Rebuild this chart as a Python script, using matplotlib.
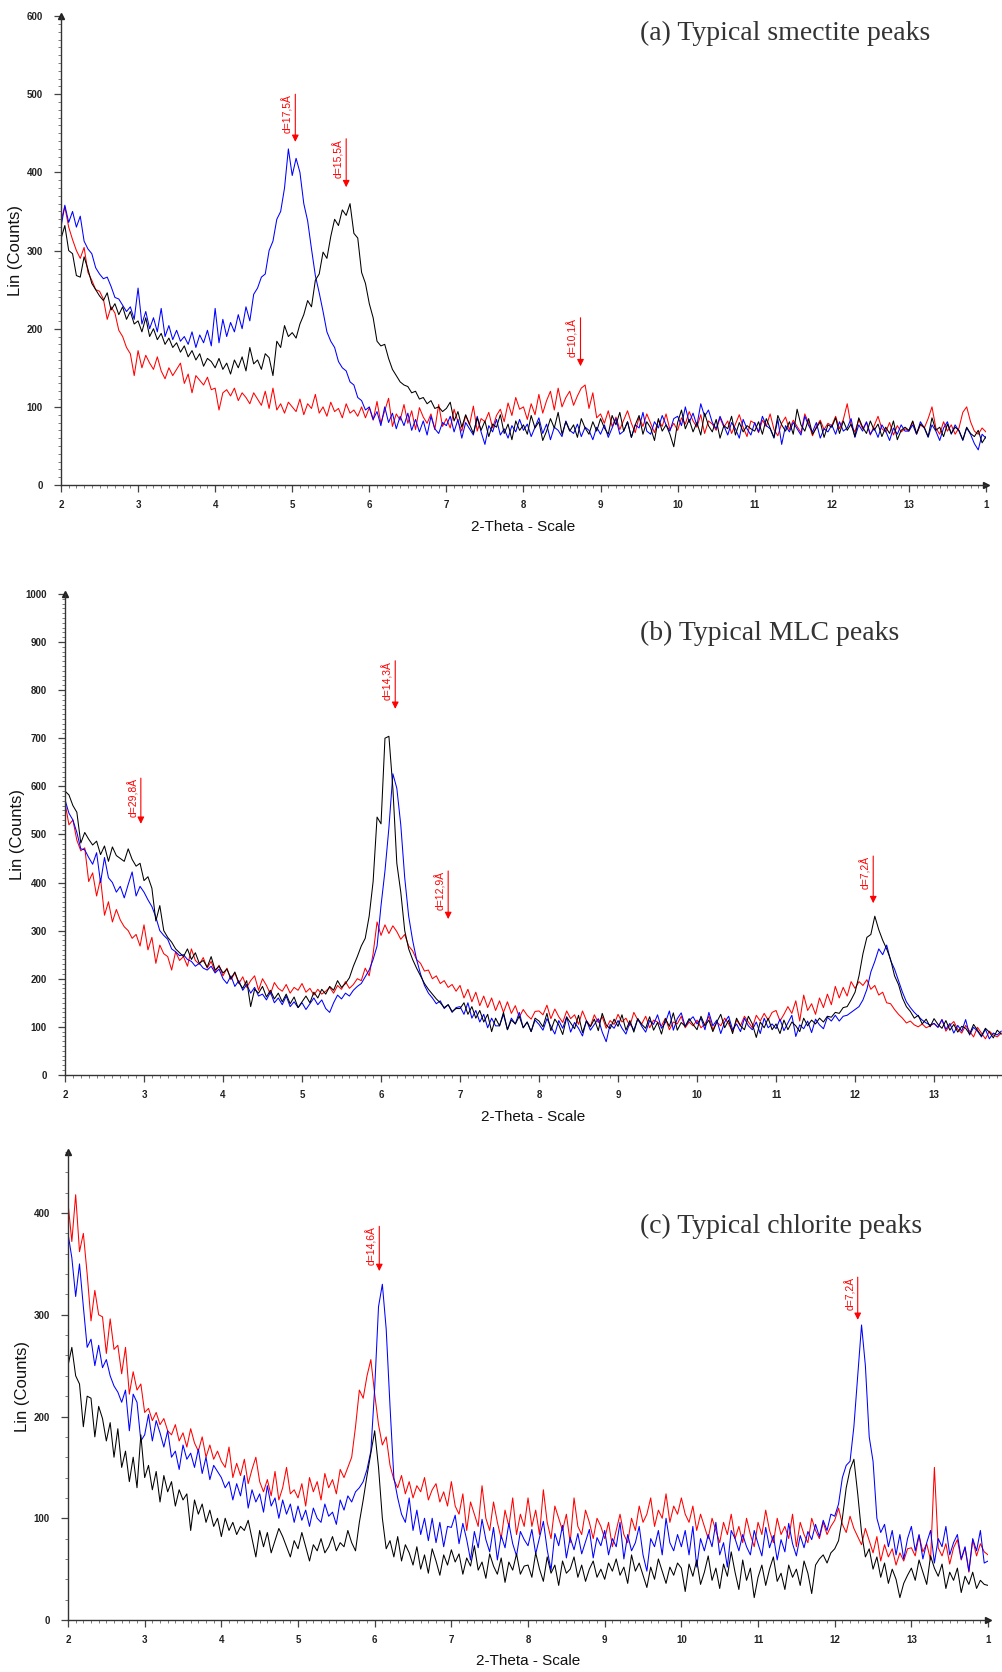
import numpy as np
import matplotlib
matplotlib.use("Agg")
import matplotlib.pyplot as plt
from matplotlib.ticker import MultipleLocator, FixedLocator

# ---------------- data (2-theta scan, step 0.05 deg, starting at 2.00) ----------------
STEP = 0.05
START = 2.0

# Panel (a) smectite
a_black = [315, 332, 300, 296, 268, 266, 292, 276, 258, 250, 242, 236, 246, 224, 232, 218, 228, 212, 222, 206,
           210, 196, 214, 190, 200, 186, 194, 180, 188, 176, 182, 170, 178, 164, 172, 160, 168, 152, 162, 158,
           150, 162, 148, 156, 142, 160, 150, 164, 146, 176, 155, 160, 148, 168, 163, 140, 184, 176, 204, 190,
           195, 188, 206, 218, 236, 228, 262, 270, 298, 290, 318, 340, 332, 352, 345, 360, 322, 316, 272, 258,
           232, 214, 184, 178, 180, 162, 148, 140, 132, 128, 126, 118, 120, 110, 112, 104, 108, 98, 100, 94,
           98, 106, 82, 94, 74, 90, 78, 66, 86, 70, 82, 62, 78, 74, 90, 66, 78, 58, 82, 70,
           77, 65, 89, 73, 81, 57, 69, 85, 73, 93, 65, 81, 69, 77, 61, 85, 73, 65, 81, 69,
           85, 73, 65, 89, 77, 93, 69, 81, 61, 77, 89, 65, 81, 73, 57, 85, 69, 77, 65, 49,
           80, 96, 72, 84, 68, 80, 64, 92, 76, 68, 84, 60, 76, 72, 88, 64, 80, 68, 76, 72,
           69, 81, 65, 85, 73, 61, 89, 77, 69, 81, 65, 97, 77, 69, 85, 65, 73, 81, 61, 77,
           74, 86, 66, 82, 70, 78, 62, 86, 74, 66, 82, 70, 78, 62, 74, 66, 82, 58, 70, 74,
           70, 82, 66, 78, 74, 62, 86, 70, 74, 62, 78, 66, 74, 70, 58, 74, 66, 62, 70, 54,
           62]
a_blue = [330, 358, 336, 350, 330, 344, 312, 302, 296, 278, 270, 264, 266, 254, 240, 238, 230, 222, 228, 212,
          252, 206, 222, 200, 214, 196, 226, 190, 204, 186, 198, 184, 190, 180, 196, 176, 192, 182, 198, 178,
          226, 182, 212, 190, 208, 196, 218, 200, 228, 210, 244, 252, 266, 270, 300, 312, 340, 350, 380, 430,
          396, 418, 400, 360, 338, 302, 268, 246, 222, 196, 184, 176, 158, 150, 146, 132, 128, 112, 108, 96,
          100, 84, 94, 76, 100, 80, 92, 72, 88, 76, 92, 70, 84, 68, 82, 64, 88, 72, 66, 80,
          76, 88, 68, 84, 60, 80, 72, 64, 88, 68, 52, 76, 68, 84, 64, 72, 60, 76, 68, 84,
          70, 78, 62, 74, 86, 66, 78, 58, 74, 70, 62, 82, 70, 66, 78, 62, 74, 70, 58, 74,
          65, 77, 61, 73, 85, 65, 69, 81, 61, 77, 73, 93, 69, 65, 81, 73, 89, 77, 69, 85,
          88, 76, 100, 80, 92, 76, 104, 88, 96, 80, 72, 88, 76, 64, 80, 72, 60, 84, 72, 64,
          80, 68, 88, 76, 72, 60, 84, 52, 76, 68, 80, 72, 64, 88, 76, 68, 80, 60, 72, 68,
          77, 65, 81, 69, 73, 85, 61, 77, 69, 81, 65, 73, 61, 77, 69, 57, 73, 65, 77, 69,
          69, 77, 65, 81, 73, 61, 77, 69, 57, 73, 81, 65, 77, 69, 57, 73, 65, 53, 45, 65,
          60]
a_red = [338, 356, 330, 314, 300, 290, 304, 272, 262, 250, 248, 238, 212, 228, 220, 198, 190, 176, 168, 140,
         172, 150, 166, 156, 148, 164, 146, 136, 150, 140, 148, 156, 130, 142, 118, 140, 134, 128, 138, 122,
         124, 96, 118, 122, 114, 124, 108, 118, 112, 104, 118, 110, 102, 120, 98, 124, 96, 104, 92, 106,
         100, 94, 110, 90, 104, 98, 116, 92, 100, 88, 106, 94, 98, 86, 104, 92, 96, 88, 100, 86,
         99, 83, 107, 79, 95, 111, 75, 91, 83, 103, 79, 95, 71, 99, 87, 79, 91, 71, 103, 75,
         85, 73, 97, 81, 69, 89, 77, 101, 69, 85, 81, 93, 73, 89, 97, 81, 105, 89, 112, 97,
         100, 84, 104, 90, 116, 92, 108, 120, 96, 124, 100, 112, 120, 102, 114, 124, 128, 98, 118, 86,
         91, 79, 95, 75, 87, 71, 83, 95, 79, 67, 87, 75, 91, 79, 67, 83, 75, 91, 71, 79,
         70, 86, 78, 94, 82, 74, 90, 66, 82, 78, 70, 86, 74, 82, 66, 78, 90, 74, 62, 82,
         79, 67, 83, 75, 91, 71, 63, 79, 87, 71, 83, 75, 67, 91, 79, 63, 75, 83, 71, 79,
         76, 88, 72, 84, 104, 76, 68, 84, 72, 80, 64, 76, 88, 72, 68, 80, 64, 76, 68, 72,
         69, 81, 65, 77, 73, 85, 100, 73, 65, 81, 69, 77, 65, 73, 93, 100, 81, 69, 65, 73,
         68]

# Panel (b) MLC
b_black = [590, 582, 560, 546, 482, 504, 490, 478, 486, 458, 476, 444, 474, 456, 450, 444, 470, 448, 434, 440,
           404, 412, 388, 320, 352, 300, 286, 276, 262, 254, 246, 262, 240, 254, 232, 238, 224, 246, 218, 226,
           212, 220, 200, 214, 192, 180, 196, 142, 178, 170, 184, 162, 176, 158, 170, 152, 168, 148, 162, 140,
           152, 164, 150, 172, 160, 178, 168, 184, 176, 196, 182, 190, 202, 226, 246, 268, 284, 330, 402, 536,
           522, 700, 704, 596, 440, 380, 300, 262, 240, 222, 206, 190, 178, 168, 158, 150, 140, 146, 132, 138,
           138, 150, 126, 142, 118, 134, 110, 126, 90, 118, 102, 130, 94, 114, 106, 122, 98, 110, 90, 118,
           112, 100, 128, 92, 116, 104, 84, 120, 108, 96, 124, 88, 112, 100, 116, 92, 128, 104, 96, 116,
           101, 125, 93, 113, 89, 117, 105, 97, 121, 93, 109, 85, 117, 101, 129, 93, 109, 101, 117, 105,
           94, 122, 102, 114, 90, 110, 126, 98, 114, 86, 118, 102, 94, 122, 106, 78, 110, 98, 118, 94,
           106, 86, 114, 94, 110, 102, 90, 118, 102, 114, 106, 118, 110, 122, 120, 130, 128, 140, 142, 156,
           172, 206, 252, 286, 292, 330, 302, 280, 262, 240, 206, 188, 160, 142, 132, 118, 124, 106, 116, 100,
           117, 105, 97, 113, 93, 105, 89, 101, 97, 85, 105, 93, 81, 97, 89, 77, 93, 85]
b_blue = [572, 544, 530, 504, 470, 468, 452, 438, 462, 400, 452, 410, 400, 380, 392, 368, 396, 422, 372, 392,
          380, 364, 350, 328, 300, 290, 282, 262, 256, 248, 250, 240, 236, 226, 232, 222, 218, 226, 212, 220,
          200, 190, 206, 184, 196, 176, 188, 170, 182, 164, 168, 156, 172, 150, 160, 146, 164, 142, 152, 140,
          150, 136, 148, 160, 146, 156, 138, 130, 150, 166, 158, 170, 164, 176, 184, 190, 204, 218, 240, 268,
          352, 424, 514, 626, 596, 520, 410, 330, 280, 240, 210, 186, 170, 160, 148, 154, 138, 146, 130, 140,
          142, 126, 150, 118, 134, 110, 126, 98, 118, 102, 102, 126, 94, 118, 106, 130, 98, 110, 90, 114,
          105, 93, 117, 101, 85, 113, 97, 121, 89, 109, 97, 81, 113, 93, 105, 117, 89, 69, 105, 97,
          113, 97, 85, 109, 93, 117, 101, 89, 113, 105, 125, 97, 109, 133, 93, 117, 129, 101, 113, 121,
          106, 118, 94, 130, 102, 114, 86, 110, 122, 94, 106, 90, 118, 102, 94, 110, 86, 118, 98, 106,
          96, 116, 92, 108, 124, 80, 104, 96, 112, 88, 116, 104, 96, 120, 112, 124, 112, 122, 124, 130,
          136, 142, 156, 178, 214, 236, 262, 250, 270, 238, 220, 196, 172, 152, 140, 130, 122, 114, 108, 104,
          107, 99, 115, 95, 107, 87, 103, 91, 115, 83, 99, 91, 79, 95, 75, 87, 83, 91]
b_red = [566, 520, 530, 488, 466, 472, 402, 420, 372, 408, 332, 360, 318, 344, 322, 308, 300, 284, 292, 268,
         312, 260, 286, 232, 270, 252, 246, 218, 256, 238, 246, 226, 262, 238, 230, 244, 222, 236, 214, 228,
         206, 222, 198, 212, 190, 204, 182, 196, 206, 176, 200, 186, 168, 192, 180, 174, 188, 170, 182, 176,
         190, 172, 180, 166, 178, 168, 174, 182, 170, 186, 178, 194, 180, 188, 200, 196, 222, 206, 252, 318,
         290, 312, 294, 310, 298, 282, 292, 268, 258, 240, 232, 216, 218, 200, 206, 190, 196, 182, 188, 174,
         186, 160, 178, 152, 172, 144, 164, 140, 160, 134, 154, 130, 152, 128, 144, 120, 136, 124, 116, 132,
         133, 125, 145, 117, 137, 121, 109, 133, 117, 125, 105, 133, 113, 101, 125, 109, 121, 97, 113, 105,
         126, 110, 118, 102, 130, 114, 106, 122, 98, 114, 110, 102, 118, 94, 110, 106, 122, 98, 110, 102,
         114, 98, 106, 122, 94, 110, 102, 118, 106, 90, 114, 102, 122, 110, 98, 124, 112, 128, 114, 130,
         134, 112, 126, 142, 128, 154, 112, 166, 134, 148, 126, 160, 140, 168, 146, 184, 160, 182, 164, 194,
         180, 194, 186, 198, 178, 186, 166, 172, 150, 148, 136, 126, 118, 108, 112, 104, 100, 106, 98, 102,
         107, 99, 115, 91, 103, 111, 95, 87, 103, 91, 79, 99, 87, 75, 91, 83, 79, 87]

# Panel (c) chlorite
c_black = [250, 268, 240, 232, 190, 220, 218, 180, 210, 198, 176, 194, 160, 188, 150, 166, 136, 160, 130, 182,
           140, 152, 128, 146, 116, 142, 126, 136, 112, 128, 118, 124, 88, 118, 104, 114, 96, 108, 92, 100,
           82, 100, 88, 96, 84, 92, 88, 98, 80, 62, 88, 72, 86, 66, 78, 90, 82, 72, 62, 78,
           70, 86, 72, 58, 74, 68, 80, 66, 72, 82, 68, 76, 72, 88, 76, 68, 96, 118, 142, 164,
           186, 150, 100, 70, 78, 62, 82, 58, 74, 66, 54, 72, 50, 64, 46, 70, 58, 44, 64, 54,
           69, 57, 65, 45, 61, 53, 73, 49, 57, 41, 65, 53, 45, 61, 37, 57, 49, 65, 45, 53,
           54, 42, 66, 50, 38, 62, 46, 54, 34, 58, 46, 50, 62, 42, 54, 38, 50, 58, 42, 50,
           40, 56, 48, 60, 44, 52, 36, 64, 48, 56, 44, 32, 52, 40, 60, 48, 36, 52, 44, 56,
           51, 28, 55, 43, 59, 35, 47, 63, 39, 51, 31, 55, 43, 67, 47, 30, 59, 39, 51, 22,
           42, 54, 34, 50, 62, 38, 46, 30, 54, 42, 50, 34, 58, 46, 26, 54, 60, 64, 56, 66,
           70, 78, 100, 130, 148, 158, 124, 86, 62, 70, 50, 62, 42, 56, 36, 50, 40, 22, 36, 44,
           51, 39, 59, 47, 35, 63, 51, 43, 55, 31, 47, 39, 51, 27, 43, 35, 47, 31, 39, 35,
           34]
c_blue = [380, 356, 318, 350, 308, 268, 276, 250, 270, 248, 256, 240, 230, 224, 214, 226, 186, 222, 214, 176,
          182, 202, 176, 196, 184, 170, 186, 160, 166, 148, 172, 158, 164, 150, 168, 144, 160, 138, 152, 146,
          140, 130, 136, 118, 134, 122, 142, 110, 128, 116, 124, 106, 132, 112, 120, 100, 118, 104, 114, 96,
          112, 98, 108, 92, 110, 100, 96, 114, 102, 106, 94, 118, 108, 122, 116, 126, 130, 136, 148, 166,
          228, 308, 330, 286, 210, 140, 120, 104, 96, 120, 88, 108, 84, 100, 78, 100, 76, 96, 72, 92,
          91, 103, 75, 95, 79, 59, 87, 71, 99, 79, 67, 91, 59, 83, 71, 95, 75, 63, 87, 79,
          73, 89, 65, 81, 97, 69, 49, 85, 73, 93, 61, 81, 69, 85, 65, 77, 89, 61, 81, 73,
          88, 64, 80, 72, 96, 60, 84, 68, 76, 92, 64, 48, 80, 72, 88, 64, 100, 76, 68, 84,
          72, 88, 64, 92, 52, 80, 68, 84, 72, 96, 64, 76, 52, 88, 80, 68, 84, 72, 64, 88,
          75, 63, 91, 71, 83, 59, 79, 67, 95, 75, 63, 83, 71, 87, 79, 94, 82, 98, 88, 104,
          102, 114, 140, 152, 156, 190, 240, 290, 250, 180, 156, 100, 86, 94, 72, 88, 64, 84, 60, 80,
          92, 68, 84, 60, 76, 88, 56, 80, 72, 92, 64, 76, 84, 60, 72, 48, 80, 68, 88, 56,
          58]
c_red = [410, 372, 418, 362, 380, 340, 294, 324, 300, 298, 262, 296, 266, 270, 242, 268, 222, 244, 226, 232,
         204, 208, 196, 204, 192, 198, 186, 182, 192, 176, 184, 170, 188, 174, 166, 180, 160, 172, 158, 166,
         156, 150, 170, 140, 154, 142, 158, 134, 148, 160, 136, 126, 138, 122, 146, 118, 130, 150, 124, 128,
         120, 134, 112, 140, 126, 136, 118, 144, 130, 138, 124, 148, 140, 150, 160, 190, 226, 218, 240, 256,
         222, 192, 172, 180, 152, 138, 130, 142, 124, 136, 120, 132, 126, 140, 118, 128, 134, 116, 126, 112,
         136, 112, 104, 124, 88, 116, 104, 92, 132, 100, 88, 116, 96, 80, 108, 92, 120, 84, 104, 92,
         120, 92, 108, 84, 128, 96, 80, 112, 100, 88, 104, 76, 120, 92, 84, 108, 96, 80, 100, 92,
         80, 96, 72, 88, 104, 84, 76, 100, 88, 112, 96, 104, 120, 92, 108, 100, 124, 96, 112, 104,
         120, 104, 96, 112, 88, 104, 92, 80, 100, 88, 76, 96, 84, 104, 80, 92, 76, 100, 84, 72,
         96, 84, 108, 88, 76, 100, 84, 92, 80, 104, 72, 96, 84, 76, 100, 88, 80, 96, 84, 92,
         98, 110, 94, 86, 102, 90, 82, 74, 90, 78, 66, 82, 58, 74, 62, 70, 54, 66, 58, 70,
         71, 63, 83, 67, 75, 59, 150, 71, 63, 75, 55, 71, 79, 59, 71, 47, 79, 63, 75, 67,
         64]

# tick labels
a_yticks = [0, 100, 200, 300, 400, 500, 600]
b_yticks = [0, 100, 200, 300, 400, 500, 600, 700, 800, 900, 1000]
c_yticks = [0, 100, 200, 300, 400]
ac_xticks = [2, 3, 4, 5, 6, 7, 8, 9, 10, 11, 12, 13, 14]
ac_xticklabels = ["2", "3", "4", "5", "6", "7", "8", "9", "10", "11", "12", "13", "1"]
b_xticks = [2, 3, 4, 5, 6, 7, 8, 9, 10, 11, 12, 13]
b_xticklabels = ["2", "3", "4", "5", "6", "7", "8", "9", "10", "11", "12", "13"]

# peak annotations: (label, 2-theta, arrow start count, arrow tip count)
ann_a = [("d=17,5Å", 5.04, 500, 439), ("d=15,5Å", 5.70, 443, 381), ("d=10,1Å", 8.74, 214, 152)]
ann_b = [("d=29,8Å", 2.96, 617, 522), ("d=14,3Å", 6.18, 861, 761),
         ("d=12,9Å", 6.85, 424, 324), ("d=7,2Å", 12.23, 455, 357)]
ann_c = [("d=14,6Å", 6.06, 387, 343), ("d=7,2Å", 12.30, 337, 295)]

titles = ["(a) Typical smectite peaks", "(b) Typical MLC peaks", "(c) Typical chlorite peaks"]

# ---------------- figure ----------------
plt.rcParams["font.family"] = ["Liberation Sans", "DejaVu Sans"]
fig = plt.figure(figsize=(10.03, 16.72), dpi=100)

panels = [
    dict(rect=[0.0608, 0.7099, 0.9222, 0.2805], xlim=(2, 14), ylim=(0, 600),
         yt=a_yticks, ymin=10, xt=ac_xticks, xtl=ac_xticklabels,
         series=(a_red, a_blue, a_black), ann=ann_a, title=titles[0], ty=0.980,
         xarrow=True, ylab_x=-0.041, xlab_y=-0.075),
    dict(rect=[0.0648, 0.3571, 0.9342, 0.2877], xlim=(2, 13.86), ylim=(0, 1000),
         yt=b_yticks, ymin=10, xt=b_xticks, xtl=b_xticklabels,
         series=(b_red, b_blue, b_black), ann=ann_b, title=titles[1], ty=0.6214,
         xarrow=False, ylab_x=-0.043, xlab_y=-0.073),
    dict(rect=[0.0678, 0.0311, 0.9173, 0.2799], xlim=(2, 14), ylim=(0, 460),
         yt=c_yticks, ymin=20, xt=ac_xticks, xtl=ac_xticklabels,
         series=(c_red, c_blue, c_black), ann=ann_c, title=titles[2], ty=0.2667,
         xarrow=True, ylab_x=-0.041, xlab_y=-0.073),
]

colors = ["#ff0000", "#0000ff", "#000000"]
axcol = "#333333"

for p in panels:
    ax = fig.add_axes(p["rect"])
    for vals, col in zip(p["series"], colors):
        x = START + STEP * np.arange(len(vals))
        ax.plot(x, vals, color=col, lw=0.75)
    ax.set_xlim(*p["xlim"])
    ax.set_ylim(*p["ylim"])
    for s in ("top", "right"):
        ax.spines[s].set_visible(False)
    for s in ("left", "bottom"):
        ax.spines[s].set_color(axcol)
        ax.spines[s].set_linewidth(1.0)
    ax.xaxis.set_major_locator(FixedLocator(p["xt"]))
    ax.set_xticklabels(p["xtl"])
    ax.xaxis.set_minor_locator(MultipleLocator(0.1))
    ax.yaxis.set_major_locator(FixedLocator(p["yt"]))
    ax.yaxis.set_minor_locator(MultipleLocator(p["ymin"]))
    ax.tick_params(axis="both", which="major", direction="out", length=5, width=0.9,
                   color="#444444", labelsize=7, labelcolor="#222222")
    ax.tick_params(axis="both", which="minor", direction="out", length=2.5, width=0.6,
                   color="#666666")
    ax.tick_params(axis="x", which="major", pad=6)
    ax.tick_params(axis="y", which="major", pad=8)
    for lbl in ax.get_xticklabels() + ax.get_yticklabels():
        lbl.set_fontweight("bold")
    ax.set_ylabel("Lin (Counts)", fontsize=12, color="#111111")
    ax.yaxis.set_label_coords(p["ylab_x"], 0.5)
    ax.set_xlabel("2-Theta - Scale", fontsize=11, color="#111111")
    ax.xaxis.set_label_coords(0.5, p["xlab_y"])
    # axis arrow heads
    ax.plot([0], [1], marker="^", ms=4, color="#222222", transform=ax.transAxes, clip_on=False)
    if p["xarrow"]:
        ax.plot([1], [0], marker=">", ms=4, color="#222222", transform=ax.transAxes, clip_on=False)
    # peak annotations
    for label, xv, top, tip in p["ann"]:
        ax.annotate("", xy=(xv, tip), xytext=(xv, top),
                    arrowprops=dict(arrowstyle="-|>", color="red", lw=0.8,
                                    mutation_scale=10, shrinkA=0, shrinkB=0))
        ax.annotate(label, xy=(xv, top), xytext=(-1.5, 0), textcoords="offset points",
                    rotation=90, ha="right", va="top", color="red", fontsize=7.5)
    fig.text(0.638, p["ty"], p["title"], family=["Liberation Serif", "DejaVu Serif"],
             fontsize=20, color="#333333", ha="left", va="center")

fig.savefig("out.png", dpi=100)
